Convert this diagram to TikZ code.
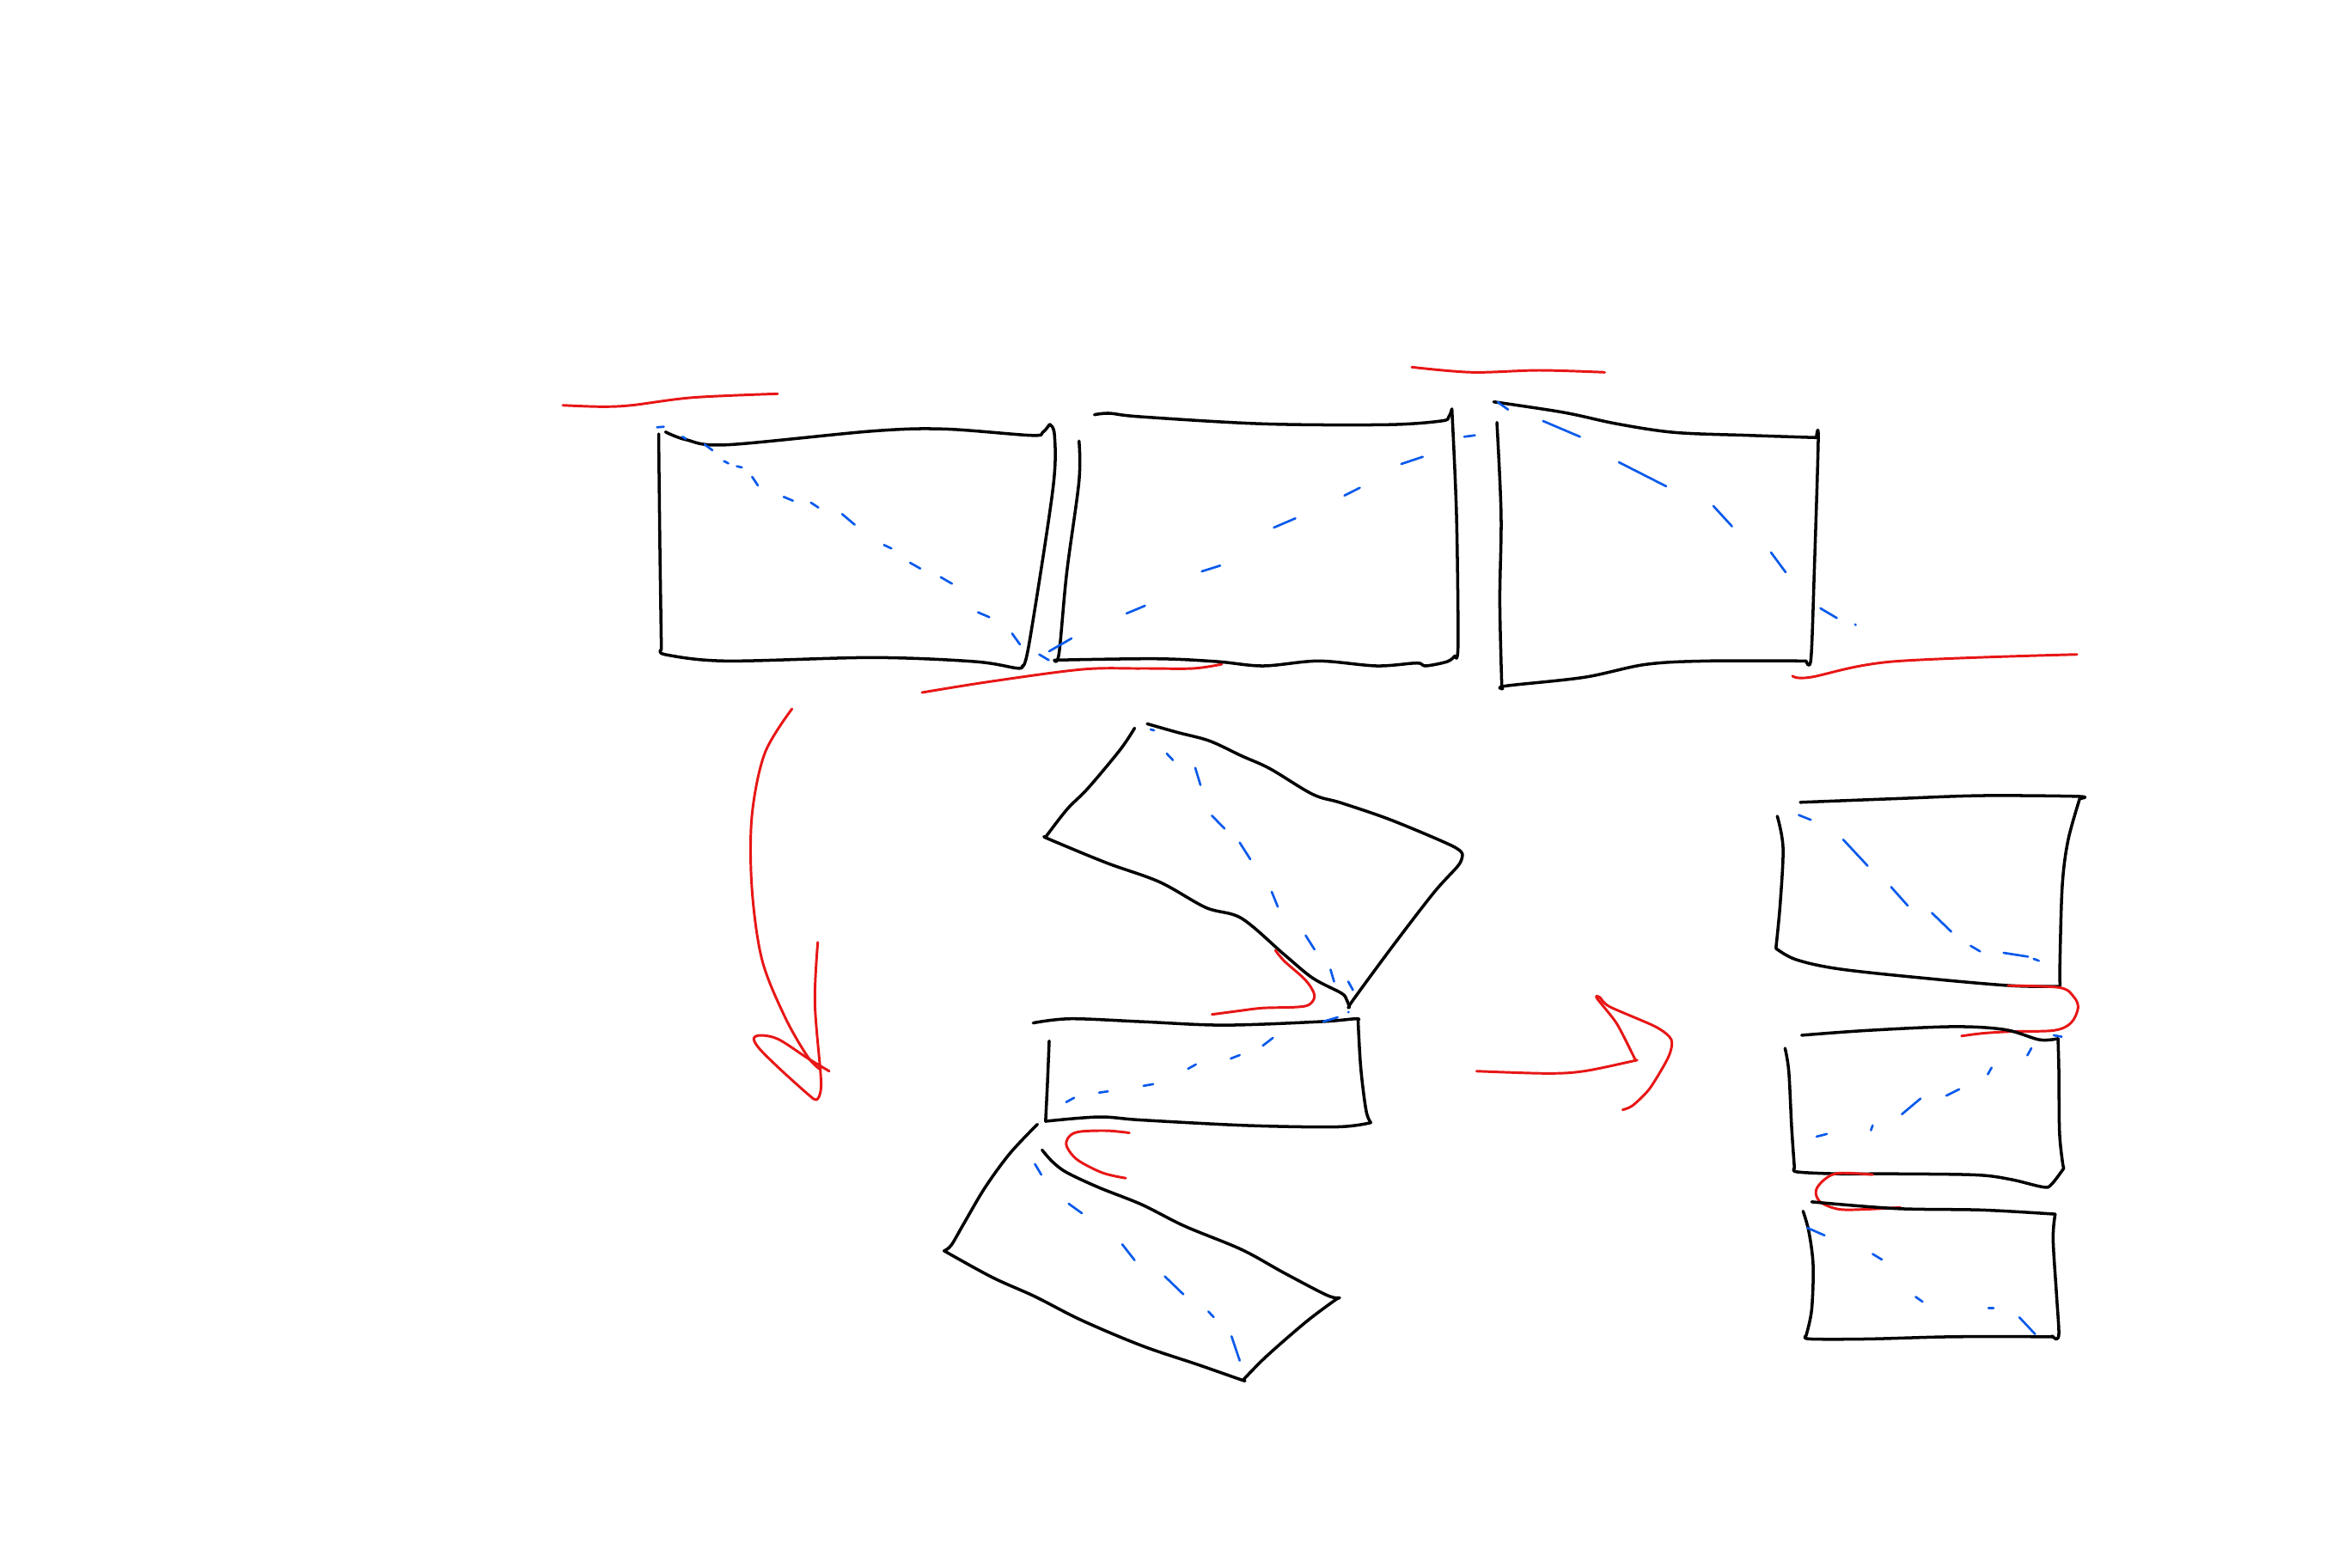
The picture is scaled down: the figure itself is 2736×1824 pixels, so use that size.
\documentclass[tikz,border=0pt]{standalone}
\definecolor{blueink}{RGB}{10,90,235}
\definecolor{redink}{RGB}{232,22,22}
\begin{document}
\begin{tikzpicture}[x=0.05mm,y=-0.05mm,line cap=round,line join=round,
  ink/.style={draw=black,line width=0.5pt},
  bink/.style={draw=blueink,line width=0.38pt},
  rink/.style={draw=redink,line width=0.42pt},
  sm/.style={smooth,tension=0.55}]
\useasboundingbox[fill=white] (0,0) rectangle (2736,1824);

% ---------------- Box A (top left)
\draw[ink] plot[sm] coordinates {(766.5,505) (768,640) (769.7,756)};
\draw[ink] plot[sm] coordinates {(769.7,756) (775,762) (845.6,769.3) (1015.6,765.3) (1134.3,770) (1183.7,777.7) (1189.6,775)};
\draw[ink] plot[sm] coordinates {(1189.6,775) (1197.5,750) (1225.2,570) (1227.2,506.7) (1221.3,494)};
\draw[ink] plot[sm] coordinates {(1221.3,494) (1213.3,503.3) (1199.5,506.7) (1098.7,499.3) (1015.6,501.7) (845.6,517.7) (798.2,511.7) (774.4,502.7)};
\draw[bink] (764.6,497.3)--(772.5,496.7) (794.2,508.3)--(798.2,510.7) (819.9,517.3)--(829,524)
  (842.5,536.7)--(847.6,539.3) (857.5,542.7)--(863.4,544) (875.3,555)--(882,565)
  (912,578.3)--(922.7,582.7) (943.7,585)--(952.4,590.7) (980,598.3)--(994.7,610.7)
  (1028.7,634.3)--(1037.4,638.3) (1059.1,655)--(1071,661.7) (1094.7,671.7)--(1107.8,679.3)
  (1138.2,712.7)--(1151.3,718.3) (1177.8,737.3)--(1186.9,750) (1209.4,761.7)--(1220.5,768.3);
\draw[rink] plot[sm] coordinates {(655,471.7) (699.3,473.3) (734.9,471.7) (806,462.7) (905,458.3)};
\draw[rink] plot[sm] coordinates {(1073,806) (1154,793) (1260,779) (1327,778) (1388,778) (1422,773)};

% ---------------- Box B (top middle)
\draw[ink] plot[sm] coordinates {(1255.7,513.3) (1255.7,560) (1241.4,666.7) (1232.5,760) (1227,768.3)};
\draw[ink] plot[sm] coordinates {(1227,768.3) (1345,766.7) (1416.4,770) (1470,775) (1534.3,769.3) (1602,775) (1648.6,771.7) (1659,775) (1684.3,770) (1693.2,763.3)};
\draw[ink] plot[sm] coordinates {(1693.2,763.3) (1696.8,750) (1695,600) (1689.6,476)};
\draw[ink] plot[sm] coordinates {(1689.6,476) (1686,485) (1677,490) (1612.9,494.3) (1470,493.3) (1327,485) (1291.4,481) (1273.6,482.7)};
\draw[bink] (1221,758)--(1247,743) (1311,714)--(1332.5,705) (1398.6,665)--(1420,658.3)
  (1482.5,614)--(1507.5,603.3) (1564.6,576.7)--(1582.5,567.7) (1630.7,540)--(1655.7,531.7)
  (1704,508.3)--(1716.4,506.7);

% ---------------- Box C (top right)
\draw[ink] plot[sm] coordinates {(1738.3,467.7) (1819.6,480) (1881.8,493.3) (1948.7,503.3) (2034.8,506.7) (2113.7,509.3)};
\draw[ink] plot[sm] coordinates {(2113.7,509.3) (2116,512) (2111.3,666.7) (2107.5,766.7) (2101.8,769.3)};
\draw[ink] plot[sm] coordinates {(2101.8,769.3) (1987,769.3) (1915.2,773.3) (1843.5,788.3) (1752.6,798.3) (1748.8,801.7)};
\draw[ink] plot[sm] coordinates {(1742,491.7) (1746.9,600) (1745.4,700) (1747.8,801.7)};
\draw[bink] (1743,468)--(1755,476.7) (1795.7,490)--(1838.7,508.3) (1884,538)--(1939,566)
  (1994,589)--(2015.7,612.7) (2061,643)--(2078,666) (2118.5,708)--(2137.6,719.3)
  (2159,726.7)--(2159.5,727.5);
\draw[rink] plot[sm] coordinates {(1643,427.3) (1713,433.3) (1791,431) (1867.4,433.3)};
\draw[rink] plot[sm] coordinates {(2086,786.7) (2106.4,788.3) (2202,770) (2417,761.7)};

% ---------------- left curved arrow
\draw[rink] plot[sm] coordinates {(921.7,825) (890,876.7) (875,950) (875,1033.3) (886.7,1116.7) (913.3,1183.3) (940,1230) (955,1245)};
\draw[rink] plot[sm] coordinates {(951.7,1096.7) (948.3,1166.7) (955,1250) (955,1270) (950,1280) (940,1273.3) (906.7,1243.3) (883.3,1220) (877.3,1208.3) (886.7,1205) (906.7,1210) (940,1231.7) (965,1246.7)};

% ---------------- middle group: upper tilted box
\draw[ink] plot[sm] coordinates {(1335,842.4) (1370.2,852.4) (1407.5,862.3) (1444.8,879.7) (1478,894.7) (1527.7,924.5) (1560.9,934.5) (1618.9,954.4) (1689.4,984.2) (1701.8,994.2)};
\draw[ink] plot[sm] coordinates {(1701.8,994.2) (1697.6,1006.6) (1668.6,1038.9) (1618.9,1103.6) (1573.3,1165.8) (1570.4,1172.2)};
\draw[ink] plot[sm] coordinates {(1570.4,1172.2) (1567,1163.3) (1560.8,1155.8) (1527.7,1138.4) (1494.5,1111) (1444.8,1068.8) (1403.3,1056.3) (1349.4,1026.5) (1287.3,1004.1) (1220.9,976.7) (1216.8,974.3)};
\draw[ink] plot[sm] coordinates {(1216.8,974.3) (1241.7,942) (1266.5,917) (1303.8,872.3) (1320.4,847.4)};
\draw[bink] (1339,849)--(1343,850) (1357.7,877)--(1365,884.7) (1391,893.7)--(1397,913.6)
  (1410.4,949.4)--(1425,964.3) (1442.7,980.7)--(1455,1000) (1480,1038)--(1487,1055.3)
  (1519.4,1088.7)--(1529.7,1105) (1548.4,1128.5)--(1552.5,1142.4) (1569,1142.4)--(1574.5,1152.3);
\draw[rink] plot[sm] coordinates {(1484.2,1106) (1494.5,1118.5) (1519.4,1140.9) (1529.7,1158.3) (1523.5,1169.3) (1507,1172.2) (1469.6,1173.2) (1440.6,1176.7) (1410.4,1180.7)};

% middle horizontal box
\draw[ink] plot[sm] coordinates {(1202.3,1190.6) (1245.8,1185.7) (1328.7,1189.1) (1424.1,1193.1) (1536,1189.1) (1577.5,1185.7) (1580.4,1187.2)};
\draw[ink] plot[sm] coordinates {(1580.4,1187.2) (1583.6,1242.9) (1589.8,1292.6) (1595.3,1306.6)};
\draw[ink] plot[sm] coordinates {(1595.3,1306.6) (1556.7,1311.5) (1453,1310) (1328.7,1303.6) (1279,1300) (1216.8,1305)};
\draw[ink] plot[sm] coordinates {(1221,1211.5) (1219,1260) (1216.8,1305)};
\draw[bink] (1240.8,1282.7)--(1250,1277.7) (1279,1271.7)--(1289.3,1270.2) (1330.8,1263.8)--(1342,1261.8)
  (1382.6,1243.9)--(1391.7,1238.9) (1432.3,1232)--(1442.7,1228) (1469.6,1217)--(1481.3,1208)
  (1540,1189)--(1556.7,1184) (1569,1178)--(1569.5,1178);

% lower tilted box
\draw[ink] plot[sm] coordinates {(1207.3,1308.5) (1175.3,1342.4) (1146.3,1382.2) (1121.5,1424.4) (1107,1449.3) (1098.7,1455.8)};
\draw[ink] plot[sm] coordinates {(1098.7,1455.8) (1154.6,1486.6) (1204.4,1509) (1258.2,1536.4) (1328.7,1566.2) (1395,1588.6) (1444.8,1606) (1446.8,1606)};
\draw[ink] plot[sm] coordinates {(1446.8,1606) (1473.8,1578.6) (1519.4,1538.9) (1552.5,1514) (1558.8,1510.5)};
\draw[ink] plot[sm] coordinates {(1558.8,1510.5) (1544.3,1507.5) (1494.5,1481.6) (1444.8,1454.3) (1378.5,1427) (1328.7,1402) (1279,1382.2) (1241.7,1364.8) (1225,1352.3) (1212.7,1338.4)};
\draw[bink] (1204.4,1354.8)--(1211.8,1367.2) (1243.7,1401)--(1259,1412) (1306,1448.3)--(1320.4,1466.7)
  (1355.6,1485.6)--(1377.2,1506.5) (1406.2,1526.4)--(1412.4,1533) (1433.2,1555.3)--(1442.7,1583.6);
\draw[rink] plot[sm] coordinates {(1314.2,1318.5) (1287.3,1316) (1254,1317.5) (1242.5,1325) (1241.7,1335) (1254,1350) (1283,1365) (1310,1371.2)};

% ---------------- right arrow
\draw[rink] plot[sm] coordinates {(1718.3,1246.7) (1800,1249.3) (1843.3,1246.7) (1900,1235) (1903.3,1234)};
\draw[rink] plot[smooth,tension=0.45] coordinates {(1903.3,1234) (1881.7,1191.7) (1858.3,1161.7) (1861.7,1160.7) (1873.3,1171.7) (1926.7,1195) (1945,1210) (1941.7,1230) (1920,1266.7) (1900,1286.7) (1888.3,1291.7)};

% ---------------- right stack: R1
\draw[ink] plot[sm] coordinates {(2095,933.8) (2206.7,929.5) (2306.7,926) (2418.3,926.9) (2420,929.5)};
\draw[ink] plot[sm] coordinates {(2420,930.4) (2406.7,978) (2400,1030) (2397.3,1116.8) (2397.3,1147.2)};
\draw[ink] plot[sm] coordinates {(2397.3,1148) (2340,1147.2) (2240,1138.5) (2140,1127.7) (2090,1116.8) (2066.7,1103.8)};
\draw[ink] plot[sm] coordinates {(2066.7,1103.8) (2071.7,1051.8) (2075,986.7) (2068.3,949.9)};
\draw[bink] (2093.3,948.6)--(2107.3,954.2) (2145,977.2)--(2173.3,1007.6) (2200.7,1032.3)--(2220,1054)
  (2248.3,1062.6)--(2270.7,1084.3) (2293.3,1100.8)--(2304.3,1107.3) (2331.7,1109)--(2360,1113.4)
  (2366.7,1116)--(2372.7,1118.2);
\draw[rink] plot[sm] coordinates {(2336.7,1147.2) (2396.7,1149.4) (2413.3,1160.2) (2418.3,1173.2) (2410,1190.6) (2390,1199.3) (2340,1200.6) (2306.7,1202.7) (2282.7,1205.8)};

% R2
\draw[ink] plot[sm] coordinates {(2096.7,1204.9) (2173.3,1199.3) (2273.3,1194.9) (2333.3,1198.4) (2373.3,1210.1) (2395,1208.8)};
\draw[ink] plot[sm] coordinates {(2395,1208.8) (2396,1247) (2396.7,1316.4) (2400,1351) (2401.7,1359.7)};
\draw[ink] plot[sm] coordinates {(2401.7,1359.7) (2386.7,1379.2) (2376.7,1381.4) (2340,1372.7) (2300,1367.5) (2206.7,1366.2) (2140,1366.2) (2091.7,1364) (2088.3,1359.7)};
\draw[ink] plot[sm] coordinates {(2088.3,1359.7) (2085,1312) (2081.7,1247) (2077.3,1220)};
\draw[bink] (2390,1204.9)--(2399.3,1206.6) (2364,1220)--(2359.3,1228.3) (2317.7,1242.6)--(2313.3,1250.4)
  (2280,1267.8)--(2265,1275.2) (2235,1278.6)--(2213.3,1296.8) (2179.3,1309.8)--(2177.3,1315.5)
  (2126,1319.8)--(2114,1322.9);
\draw[rink] plot[sm] coordinates {(2179.3,1367.1) (2140,1365.4) (2123.3,1372.7) (2113.3,1385.7) (2118.3,1398.8) (2140,1407.4) (2173.3,1407.4) (2211.7,1405.3)};

% R3
\draw[ink] plot[sm] coordinates {(2108.3,1398.8) (2206.7,1406.6) (2306.7,1408.3) (2391.7,1413.1)};
\draw[ink] plot[sm] coordinates {(2391.7,1413.1) (2389.3,1442.1) (2393.3,1507.2) (2396,1550.6) (2393.3,1558.4) (2388.3,1554.9)};
\draw[ink] plot[sm] coordinates {(2388.3,1555.8) (2273.3,1555.8) (2173.3,1558.4) (2106.7,1558.4) (2101.7,1554.9)};
\draw[ink] plot[sm] coordinates {(2101.7,1554.9) (2108.3,1524.5) (2110,1472.5) (2105,1433.4) (2098.3,1409.6)};
\draw[bink] (2103.3,1429.1)--(2123.3,1437.8) (2179.3,1459.5)--(2190,1466) (2229.3,1509.4)--(2237.3,1515)
  (2314,1522.4)--(2320,1522.4) (2350,1533.2)--(2368.3,1552.7);
\end{tikzpicture}
\end{document}
